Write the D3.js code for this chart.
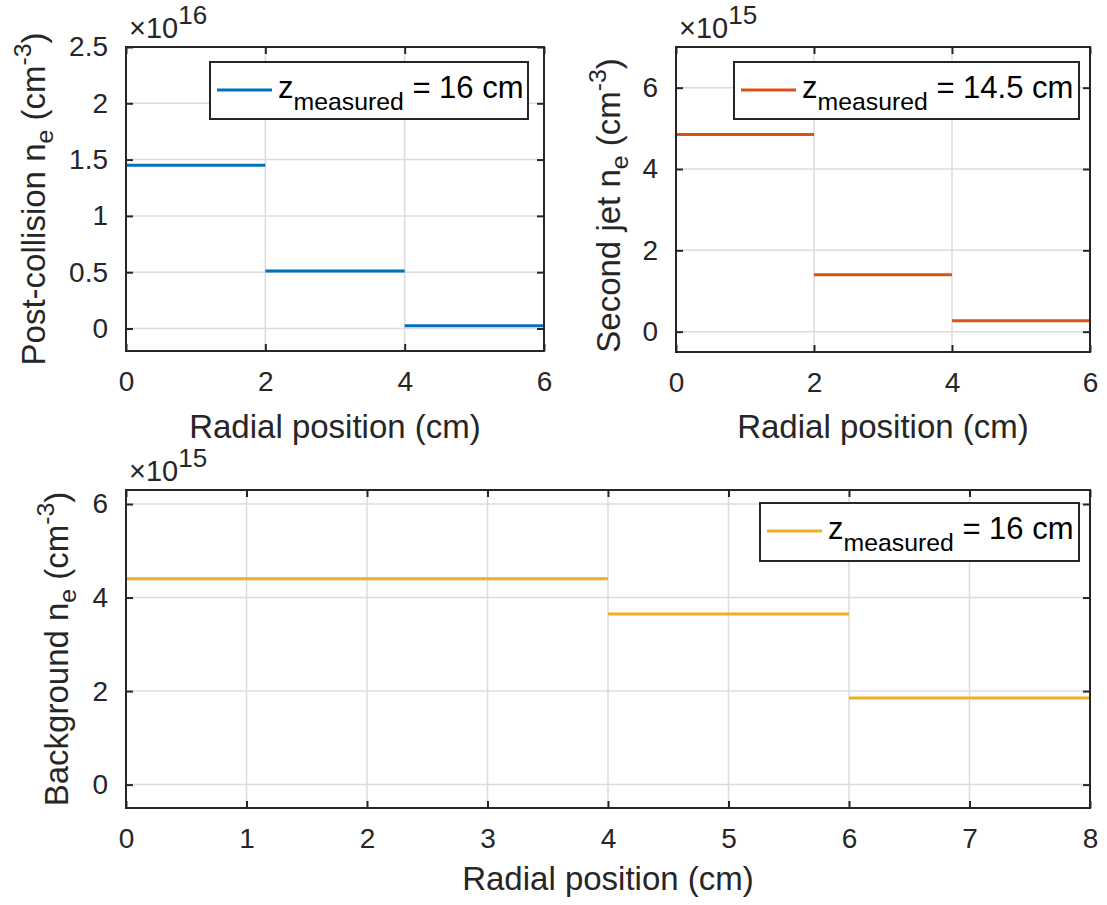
<!DOCTYPE html>
<html>
<head>
<meta charset="utf-8">
<script src="https://cdn.jsdelivr.net/npm/d3@7"></script>
<style>
  html, body { margin: 0; padding: 0; background: #fff; }
  svg { display: block; font-family: "Liberation Sans", Arial, Helvetica, sans-serif; }
</style>
</head>
<body>
<svg id="fig" width="1107" height="905"></svg>
<script>
// Radial density profiles: each segment spans [edge[i], edge[i+1]] at a constant value.
const postCollisionEdges = [0, 2, 4, 6];
const postCollisionDensity = [1.45, 0.51, 0.025];      // ×10^16 cm^-3
const secondJetEdges = [0, 2, 4, 6];
const secondJetDensity = [4.85, 1.4, 0.27];             // ×10^15 cm^-3
const backgroundEdges = [0, 4, 6, 8];
const backgroundDensity = [4.4, 3.65, 1.85];            // ×10^15 cm^-3

const xTicksTop = [0, 2, 4, 6];
const xTicksBottom = [0, 1, 2, 3, 4, 5, 6, 7, 8];
const yTicksPostCollision = [0, 0.5, 1, 1.5, 2, 2.5];
const yTicksSecondJet = [0, 2, 4, 6];
const yTicksBackground = [0, 2, 4, 6];

const svg = d3.select("#fig");
const AX = "#262626";
const TICK_FS = 28, LABEL_FS = 33, LEG_FS = 31;

function panel(cfg) {
  const x = d3.scaleLinear().domain(cfg.xDomain).range([cfg.left, cfg.right]);
  const y = d3.scaleLinear().domain(cfg.yDomain).range([cfg.bottom, cfg.top]);
  const g = svg.append("g");

  // grid
  g.selectAll(".gx").data(cfg.xTicks).enter().append("line")
    .attr("x1", d => x(d)).attr("x2", d => x(d))
    .attr("y1", cfg.top).attr("y2", cfg.bottom)
    .attr("stroke", "#dcdcdc").attr("stroke-width", 1.5);
  g.selectAll(".gy").data(cfg.yTicks).enter().append("line")
    .attr("x1", cfg.left).attr("x2", cfg.right)
    .attr("y1", d => y(d)).attr("y2", d => y(d))
    .attr("stroke", "#dcdcdc").attr("stroke-width", 1.5);

  // data segments
  const segs = cfg.values.map((v, i) => ({ x0: cfg.edges[i], x1: cfg.edges[i + 1], v }));
  g.selectAll(".seg").data(segs).enter().append("line")
    .attr("x1", d => x(d.x0)).attr("x2", d => x(d.x1))
    .attr("y1", d => y(d.v)).attr("y2", d => y(d.v))
    .attr("stroke", cfg.color).attr("stroke-width", 3);

  // axes with inward ticks on all four sides
  const tl = -7;
  const bottomAx = d3.axisBottom(x).tickValues(cfg.xTicks).tickSize(tl).tickPadding(20).tickFormat(d3.format("~g"));
  const topAx = d3.axisTop(x).tickValues(cfg.xTicks).tickSize(tl).tickFormat("");
  const leftAx = d3.axisLeft(y).tickValues(cfg.yTicks).tickSize(tl).tickPadding(18).tickFormat(d3.format("~g"));
  const rightAx = d3.axisRight(y).tickValues(cfg.yTicks).tickSize(tl).tickFormat("");
  const style = sel => {
    sel.selectAll("path").attr("stroke", AX).attr("stroke-width", 2);
    sel.selectAll("line").attr("stroke", AX).attr("stroke-width", 2);
    sel.selectAll("text").attr("fill", AX).attr("font-size", TICK_FS);
    sel.attr("font-family", null).attr("font-size", null);
  };
  g.append("g").attr("transform", `translate(0,${cfg.bottom})`).call(bottomAx).call(style);
  g.append("g").attr("transform", `translate(0,${cfg.top})`).call(topAx).call(style);
  g.append("g").attr("transform", `translate(${cfg.left},0)`).call(leftAx).call(style);
  g.append("g").attr("transform", `translate(${cfg.right},0)`).call(rightAx).call(style);
  g.selectAll(".domain").attr("d", null);
  g.append("rect").attr("x", cfg.left).attr("y", cfg.top)
    .attr("width", cfg.right - cfg.left).attr("height", cfg.bottom - cfg.top)
    .attr("fill", "none").attr("stroke", AX).attr("stroke-width", 2);

  // exponent label
  const ex = g.append("text").attr("x", cfg.left + 3).attr("y", cfg.top - 9)
    .attr("font-size", 29).attr("fill", AX);
  ex.append("tspan").text("\u00d710");
  ex.append("tspan").attr("dy", -14).attr("font-size", 26).text(cfg.exponent);

  // x label
  g.append("text").attr("x", (cfg.left + cfg.right) / 2).attr("y", cfg.xLabelY)
    .attr("text-anchor", "middle").attr("font-size", LABEL_FS).attr("fill", AX)
    .text("Radial position (cm)");

  // y label
  const yl = g.append("text")
    .attr("transform", `translate(${cfg.yLabelX},${(cfg.top + cfg.bottom) / 2 + cfg.yLabelShift}) rotate(-90)`)
    .attr("text-anchor", "middle").attr("font-size", LABEL_FS).attr("fill", AX);
  yl.append("tspan").text(cfg.yLabel + " n");
  yl.append("tspan").attr("dy", 8).attr("font-size", LABEL_FS * 0.75).text("e");
  yl.append("tspan").attr("dy", -8).text(" (cm");
  yl.append("tspan").attr("dy", -14).attr("font-size", LABEL_FS * 0.75).text("-3");
  yl.append("tspan").attr("dy", 14).text(")");

  // legend
  const L = cfg.legend;
  g.append("rect").attr("x", L.x0).attr("y", L.y0).attr("width", L.x1 - L.x0).attr("height", L.y1 - L.y0)
    .attr("fill", "#fff").attr("stroke", AX).attr("stroke-width", 2);
  const ly = L.y0 + 28;
  g.append("line").attr("x1", L.x0 + 7).attr("x2", L.x0 + 62).attr("y1", ly).attr("y2", ly)
    .attr("stroke", cfg.color).attr("stroke-width", 3);
  const lt = g.append("text").attr("x", L.x0 + 68).attr("y", ly + 8)
    .attr("font-size", LEG_FS).attr("fill", "#000");
  lt.append("tspan").text("z");
  lt.append("tspan").attr("dy", 12).attr("font-size", LEG_FS * 0.8).text("measured");
  lt.append("tspan").attr("dy", -12).text(" = " + L.label);
}

panel({
  left: 126, right: 544, top: 47, bottom: 351,
  xDomain: [0, 6], yDomain: [-0.2, 2.5],
  xTicks: xTicksTop, yTicks: yTicksPostCollision,
  edges: postCollisionEdges, values: postCollisionDensity,
  color: "#0072BD", exponent: "16",
  yLabel: "Post-collision", yLabelX: 45, yLabelShift: 0, xLabelY: 438,
  legend: { x0: 210, x1: 528, y0: 62, y1: 119, label: "16 cm" }
});

panel({
  left: 676, right: 1090, top: 47, bottom: 352,
  xDomain: [0, 6], yDomain: [-0.5, 7],
  xTicks: xTicksTop, yTicks: yTicksSecondJet,
  edges: secondJetEdges, values: secondJetDensity,
  color: "#D95319", exponent: "15",
  yLabel: "Second jet", yLabelX: 620, yLabelShift: 6, xLabelY: 438,
  legend: { x0: 734, x1: 1079, y0: 62, y1: 119, label: "14.5 cm" }
});

panel({
  left: 126, right: 1090, top: 490, bottom: 808,
  xDomain: [0, 8], yDomain: [-0.5, 6.3],
  xTicks: xTicksBottom, yTicks: yTicksBackground,
  edges: backgroundEdges, values: backgroundDensity,
  color: "#EDB120", exponent: "15",
  yLabel: "Background", yLabelX: 68, yLabelShift: 0, xLabelY: 890,
  legend: { x0: 760, x1: 1079, y0: 503, y1: 561, label: "16 cm" }
});
</script>
</body>
</html>
